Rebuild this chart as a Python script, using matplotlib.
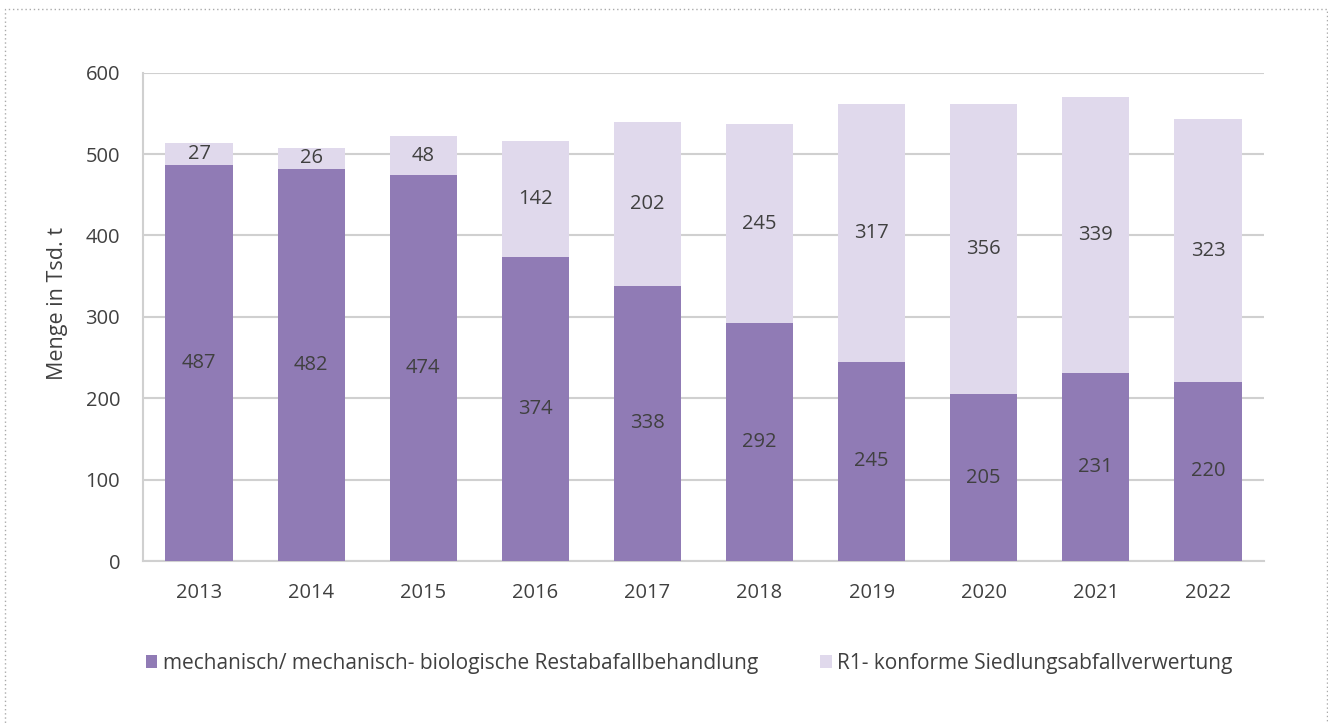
import matplotlib.pyplot as plt
from matplotlib.patches import Rectangle
import numpy as np

plt.rcParams['font.family'] = ['Open Sans', 'DejaVu Sans']

# data
years = ['2013', '2014', '2015', '2016', '2017', '2018', '2019', '2020', '2021', '2022']
mba = [487, 482, 474, 374, 338, 292, 245, 205, 231, 220]
r1 = [27, 26, 48, 142, 202, 245, 317, 356, 339, 323]
series_names = ['mechanisch/ mechanisch- biologische Restabafallbehandlung',
                'R1- konforme Siedlungsabfallverwertung']

dark = '#907bb5'
light = '#e0d9ec'
txt = '#404040'
grid = '#d0d0d0'

fig = plt.figure(figsize=(13.28, 7.24), dpi=100)
ax = fig.add_axes([0.1077, 0.2251, 0.8441, 0.6745])

x = np.arange(len(years))
b1 = ax.bar(x, mba, width=0.6, color=dark, label=series_names[0], zorder=3)
b2 = ax.bar(x, r1, width=0.6, bottom=mba, color=light, label=series_names[1], zorder=3)

ax.bar_label(b1, labels=[str(v) for v in mba], label_type='center', color=txt, fontsize=14.5)
ax.bar_label(b2, labels=[str(v) for v in r1], label_type='center', color=txt, fontsize=14.5)

ax.set_xlim(-0.5, len(years) - 0.5)
ax.set_ylim(0, 600)
ax.set_yticks(range(0, 601, 100))
ax.set_xticks(x)
ax.set_xticklabels(years)
ax.tick_params(axis='both', length=0, labelsize=14.5, colors=txt)
ax.tick_params(axis='y', pad=16.5)
ax.tick_params(axis='x', pad=16)
ax.yaxis.grid(True, color=grid, linewidth=1.5, zorder=0)
ax.set_axisbelow(True)
for s in ['top', 'right']:
    ax.spines[s].set_visible(False)
for s in ['left', 'bottom']:
    ax.spines[s].set_color(grid)
    ax.spines[s].set_linewidth(1.5)
ax.set_ylabel('Menge in Tsd. t', fontsize=15.5, color=txt)
ax.yaxis.set_label_coords(-0.067, 0.527)

fig.legend(loc='center', bbox_to_anchor=(0.519, 0.084), ncol=2, frameon=False,
           fontsize=15, labelcolor=txt, handlelength=0.55, handleheight=0.55,
           handletextpad=0.25, columnspacing=3.0)

# dotted frame around the chart
fig.patches.append(Rectangle((0.004, -0.02), 0.995, 1.008, transform=fig.transFigure,
                             fill=False, edgecolor='#aaaaaa', linestyle=(0, (1, 2)),
                             linewidth=1))

fig.savefig('out.png', dpi=100)
